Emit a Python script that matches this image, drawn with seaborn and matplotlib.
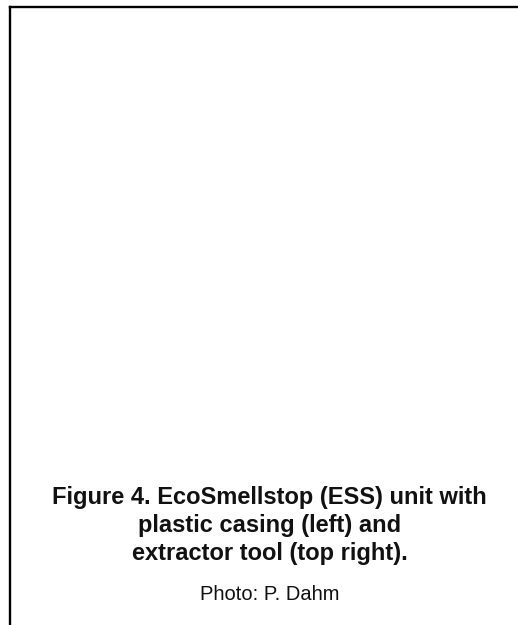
import seaborn as sns
import matplotlib.pyplot as plt

# Caption text
caption_lines = [
    "Figure 4. EcoSmellstop (ESS) unit with",
    "plastic casing (left) and",
    "extractor tool (top right).",
]
credit = "Photo: P. Dahm"

sns.set_style("white")
plt.rcParams['font.family'] = ['Liberation Sans', 'DejaVu Sans']

W, H = 518, 625
fig = plt.figure(figsize=(W / 100, H / 100), dpi=100)

# frame: only left and top lines show, the rest runs off the canvas
ax = fig.add_axes([9.5 / W, -0.05, 1.1, 1.05 - 7 / H])
ax.set_xlim(0, 1)
ax.set_ylim(0, 1)
ax.set_xticks([])
ax.set_yticks([])
sns.despine(ax=ax, left=False, top=False, right=True, bottom=True)
for side in ['left', 'top']:
    ax.spines[side].set_linewidth(1.7)
    ax.spines[side].set_color('black')

cx = 269.5 / W
for i, line in enumerate(caption_lines):
    fig.text(cx, 1 - (504 + i * 28) / H, line, ha='center', va='baseline',
             fontsize=17, fontweight='bold', color='#111111')

fig.text(cx, 1 - 600 / H, credit, ha='center', va='baseline',
         fontsize=14.5, color='#111111')

fig.savefig("out.png", dpi=100)
